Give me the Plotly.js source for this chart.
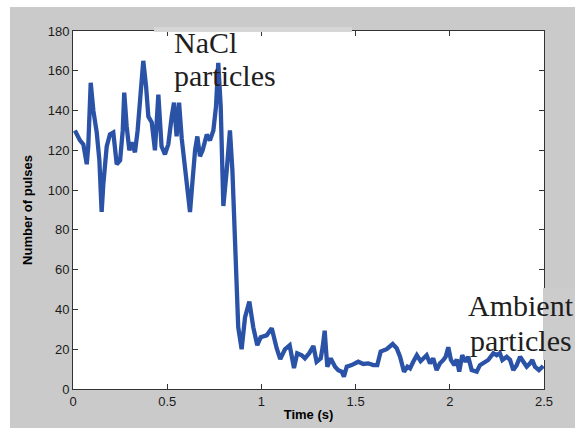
<!DOCTYPE html>
<html>
<head>
<meta charset="utf-8">
<script src="https://cdn.plot.ly/plotly-3.0.1.min.js"></script>
<style>
  html, body { margin: 0; padding: 0; background: #ffffff; width: 575px; height: 428px; overflow: hidden; }
  #chart { position: absolute; left: 10px; top: 7px; width: 565px; height: 421px; }
</style>
</head>
<body>
<div id="chart"></div>
<script>
// Time (s)
const timeS = [
  0.01, 0.037, 0.055, 0.073, 0.081, 0.094, 0.108, 0.126, 0.14, 0.152,
  0.161, 0.179, 0.196, 0.214, 0.232, 0.25, 0.264, 0.272, 0.285, 0.299,
  0.311, 0.329, 0.343, 0.359, 0.373, 0.388, 0.4, 0.418, 0.435, 0.453,
  0.47, 0.488, 0.506, 0.524, 0.536, 0.55, 0.563, 0.577, 0.594, 0.609,
  0.621, 0.633, 0.648, 0.66, 0.674, 0.688, 0.71, 0.727, 0.745, 0.759,
  0.771, 0.784, 0.798, 0.816, 0.833, 0.846, 0.855, 0.865, 0.877, 0.895,
  0.913, 0.936, 0.957, 0.978, 0.996, 1.028, 1.055, 1.081, 1.1, 1.125,
  1.15, 1.173, 1.19, 1.214, 1.231, 1.254, 1.276, 1.293, 1.315, 1.325,
  1.336, 1.343, 1.35, 1.368, 1.391, 1.408, 1.426, 1.438, 1.453, 1.479,
  1.514, 1.541, 1.567, 1.594, 1.615, 1.633, 1.665, 1.697, 1.718, 1.736,
  1.757, 1.775, 1.789, 1.806, 1.825, 1.845, 1.859, 1.877, 1.895, 1.912,
  1.93, 1.948, 1.966, 1.978, 1.992, 2.006, 2.024, 2.037, 2.05, 2.066,
  2.084, 2.098, 2.116, 2.143, 2.16, 2.187, 2.204, 2.231, 2.249, 2.266,
  2.279, 2.302, 2.32, 2.337, 2.355, 2.373, 2.39, 2.408, 2.426, 2.438,
  2.452, 2.473, 2.496
];
// Number of pulses
const pulses = [
  130, 125, 123, 113, 122, 154, 140, 129, 115, 89,
  103, 122, 128, 129, 113, 115, 130, 149, 132, 120,
  124, 119, 130, 147, 165, 152, 137, 134, 120, 148,
  122, 118, 123, 137, 144, 127, 144, 126, 112, 100,
  89, 103, 120, 127, 117, 120, 128, 125, 130, 142,
  164, 142, 92, 110, 130, 110, 85, 51, 31, 20,
  36, 44, 31, 22, 26, 27, 30.5, 20.5, 15, 20,
  22, 10.5, 18, 17, 15.4, 18, 21.6, 13.7, 15.4, 21,
  29.3, 19.6, 11.2, 15.4, 11.2, 9.5, 8.7, 6.2, 11.2, 12,
  13.7, 12.6, 12.9, 12, 12, 18.8, 20, 22.6, 20.5, 16.2,
  8.7, 11.2, 10.4, 13.7, 17, 14, 15.4, 17, 12.9, 15.4,
  9.5, 12.9, 14.6, 16.2, 21, 14.6, 12, 14.9, 8.7, 17,
  13.7, 16.2, 9.5, 8.7, 12, 13.7, 14.6, 18, 17, 18,
  14.6, 16.2, 14.6, 9.5, 12, 16.2, 13.7, 11.2, 12.9, 14.6,
  11.2, 9.5, 11.6
];
const xTickVals = [0, 0.5, 1, 1.5, 2, 2.5];
const xTickText = ['0', '0.5', '1', '1.5', '2', '2.5'];
const yTickVals = [0, 20, 40, 60, 80, 100, 120, 140, 160, 180];
const yTickText = ['0', '20', '40', '60', '80', '100', '120', '140', '160', '180'];
const labelLines = ['NaCl', 'particles', 'Ambient', 'particles'];

// plot area in page pixels: x 73..544, y 31..389
const PX0 = 73, PX1 = 544, PY0 = 31, PY1 = 389;
const px = v => (v - PX0) / (PX1 - PX0);
const py = v => (PY1 - v) / (PY1 - PY0);

const tickFont = { family: 'Liberation Sans, Arial, sans-serif', size: 13, color: '#1a1a1a' };
const titleFont = { family: 'Liberation Sans, Arial, sans-serif', size: 13, color: '#000000', weight: 'bold' };
const serif = { family: 'Liberation Serif, Times New Roman, serif', size: 30, color: '#1e1e1e' };

const trace = {
  x: timeS, y: pulses, type: 'scatter', mode: 'lines',
  line: { color: '#2a52a6', width: 4.3 },
  hoverinfo: 'skip'
};

const layout = {
  width: 565, height: 421,
  margin: { l: 63, r: 31, t: 24, b: 39, pad: 0 },
  paper_bgcolor: '#cacaca',
  plot_bgcolor: '#ffffff',
  showlegend: false,
  xaxis: {
    range: [0, 2.5], tickvals: xTickVals, ticktext: xTickText,
    ticks: 'inside', ticklen: 5, tickcolor: '#333', tickwidth: 1,
    showline: true, linecolor: '#333', linewidth: 1, mirror: 'ticks',
    showgrid: false, zeroline: false, tickfont: tickFont,
    title: { text: 'Time (s)', font: titleFont, standoff: 2 }
  },
  yaxis: {
    range: [0, 180], tickvals: yTickVals, ticktext: yTickText,
    ticks: 'inside', ticklen: 5, tickcolor: '#333', tickwidth: 1,
    showline: true, linecolor: '#333', linewidth: 1, mirror: 'ticks',
    showgrid: false, zeroline: false, tickfont: tickFont,
    title: { text: 'Number of pulses', font: titleFont, standoff: 12 }
  },
  shapes: [
    { type: 'rect', xref: 'paper', yref: 'paper', layer: 'above',
      x0: px(154), x1: px(352), y0: py(32), y1: py(27),
      fillcolor: '#d6d6d6', line: { width: 0 } },
    { type: 'rect', xref: 'paper', yref: 'paper', layer: 'above',
      x0: px(543), x1: px(576), y0: py(360), y1: py(288),
      fillcolor: '#cccccc', line: { width: 0 } }
  ],
  annotations: [
    { text: labelLines[0], xref: 'paper', yref: 'paper', x: px(172), y: py(42),
      xanchor: 'left', yanchor: 'middle', showarrow: false, font: serif },
    { text: labelLines[1], xref: 'paper', yref: 'paper', x: px(172), y: py(75),
      xanchor: 'left', yanchor: 'middle', showarrow: false, font: serif },
    { text: labelLines[2], xref: 'paper', yref: 'paper', x: px(466), y: py(305),
      xanchor: 'left', yanchor: 'middle', showarrow: false, font: serif },
    { text: labelLines[3], xref: 'paper', yref: 'paper', x: px(468), y: py(340),
      xanchor: 'left', yanchor: 'middle', showarrow: false, font: serif }
  ]
};

Plotly.newPlot('chart', [trace], layout, { displayModeBar: false, staticPlot: true });
</script>
</body>
</html>
